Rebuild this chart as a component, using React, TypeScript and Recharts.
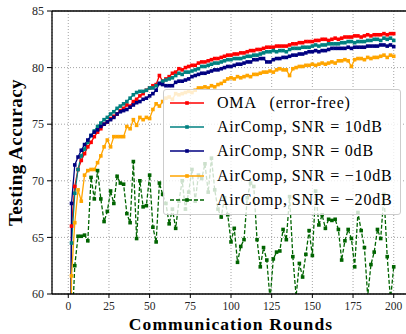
import React from 'react';
import { LineChart, Line, XAxis, YAxis, CartesianGrid, ReferenceLine, Label } from 'recharts';

const rounds = [0, 2, 4, 6, 8, 10, 12, 14, 16, 18, 20, 22, 24, 26, 28, 30, 32, 34, 36, 38, 40, 42, 44, 46, 48, 50, 52, 54, 56, 58, 60, 62, 64, 66, 68, 70, 72, 74, 76, 78, 80, 82, 84, 86, 88, 90, 92, 94, 96, 98, 100, 102, 104, 106, 108, 110, 112, 114, 116, 118, 120, 122, 124, 126, 128, 130, 132, 134, 136, 138, 140, 142, 144, 146, 148, 150, 152, 154, 156, 158, 160, 162, 164, 166, 168, 170, 172, 174, 176, 178, 180, 182, 184, 186, 188, 190, 192, 194, 196, 198, 200];

const omaErrorFree = [10, 66.0, 69.5, 71.0, 71.8, 72.4, 73.0, 73.4, 73.9, 74.3, 74.6, 75.0, 75.2, 75.5, 75.7, 75.9, 76.2, 76.4, 76.7, 76.6, 77.0, 77.2, 77.5, 77.7, 78.0, 78.2, 78.4, 78.5, 79.3, 78.8, 79.0, 79.2, 79.5, 79.6, 79.9, 79.8, 80.0, 80.1, 80.2, 80.2, 80.4, 80.5, 80.5, 80.6, 80.7, 80.8, 80.8, 80.9, 81.0, 81.1, 81.1, 81.2, 81.2, 81.3, 81.3, 81.4, 81.5, 81.5, 81.6, 81.6, 81.7, 81.8, 81.8, 81.8, 81.9, 81.9, 81.9, 81.9, 82.0, 82.1, 82.1, 82.2, 82.2, 82.3, 82.3, 82.3, 82.4, 82.4, 82.5, 82.5, 82.4, 82.5, 82.6, 82.5, 82.6, 82.7, 82.7, 82.7, 82.8, 82.8, 82.7, 82.8, 82.9, 82.8, 82.9, 82.9, 82.9, 83.0, 82.9, 83.0, 83.0];

const snr10dB = [10, 64.5, 68.9, 71.0, 72.2, 72.8, 73.4, 74.0, 74.4, 74.8, 75.1, 75.4, 75.6, 75.9, 76.1, 76.4, 76.6, 76.8, 77.0, 77.3, 77.6, 77.8, 77.9, 77.9, 78.0, 78.2, 78.2, 78.4, 78.6, 78.8, 78.9, 79.0, 79.1, 79.3, 79.5, 79.4, 79.6, 79.6, 79.7, 79.8, 79.9, 80.1, 80.1, 80.2, 80.3, 80.4, 80.4, 80.5, 80.6, 80.7, 80.7, 80.8, 80.8, 80.8, 80.9, 81.0, 81.0, 81.1, 81.1, 81.2, 81.3, 81.4, 81.4, 81.5, 81.4, 81.5, 81.5, 81.4, 81.6, 81.7, 81.7, 81.7, 81.8, 81.8, 81.8, 81.9, 82.0, 81.9, 82.0, 82.0, 82.1, 82.1, 82.1, 82.1, 82.2, 82.2, 82.3, 82.3, 82.2, 82.3, 82.3, 82.3, 82.4, 82.4, 82.5, 82.5, 82.4, 82.6, 82.5, 82.6, 82.4];

const snr0dB = [10, 68.0, 71.4, 72.1, 72.7, 73.2, 73.6, 74.0, 74.3, 74.5, 74.8, 75.0, 75.2, 75.4, 75.6, 75.9, 76.1, 76.2, 76.3, 76.5, 76.7, 76.9, 77.0, 77.2, 77.3, 77.5, 77.7, 78.0, 78.6, 78.5, 78.4, 78.4, 78.4, 78.7, 78.8, 78.8, 78.9, 79.0, 79.2, 79.3, 79.4, 79.5, 79.5, 79.6, 79.7, 79.8, 79.8, 79.9, 80.0, 80.1, 80.1, 80.2, 80.3, 80.3, 80.4, 80.5, 80.5, 80.7, 80.7, 80.8, 80.8, 80.5, 80.5, 80.7, 80.8, 80.8, 80.9, 80.9, 81.0, 81.1, 81.1, 81.2, 81.2, 81.3, 81.4, 81.4, 81.5, 81.4, 81.5, 81.5, 81.6, 81.7, 81.7, 81.7, 81.7, 81.7, 81.8, 81.7, 81.8, 81.8, 81.8, 81.8, 81.9, 81.9, 81.9, 81.9, 82.0, 82.0, 81.9, 82.0, 81.85];

const snrMinus10dB = [10, 61.6, 66.3, 69.2, 68.2, 70.5, 70.9, 71.0, 71.0, 71.6, 72.2, 73.0, 73.6, 73.0, 73.9, 73.9, 73.9, 73.9, 74.8, 74.6, 75.4, 74.9, 75.6, 75.4, 75.6, 75.5, 76.3, 76.8, 76.6, 77.0, 77.3, 77.4, 77.2, 77.7, 77.6, 77.7, 77.8, 77.9, 77.8, 78.0, 78.2, 78.2, 78.3, 78.2, 78.4, 78.3, 78.5, 78.6, 78.8, 79.0, 79.1, 79.0, 79.2, 79.1, 79.2, 79.3, 79.2, 79.4, 79.4, 79.5, 79.6, 79.6, 79.7, 79.6, 79.8, 79.9, 79.8, 79.8, 79.3, 79.9, 80.0, 80.1, 80.1, 80.2, 80.2, 80.3, 80.2, 80.3, 80.4, 80.3, 80.4, 80.5, 80.4, 80.6, 80.6, 80.7, 80.6, 80.1, 80.7, 80.8, 80.8, 80.7, 80.9, 80.8, 80.9, 80.9, 81.0, 81.1, 80.9, 81.1, 81.0];

const snrMinus20dB = [10, 56.0, 62.5, 65.1, 65.1, 65.2, 64.7, 70.3, 68.4, 70.9, 68.4, 66.4, 67.3, 69.1, 68.0, 70.4, 69.8, 69.7, 67.1, 66.3, 71.7, 64.9, 70.0, 67.7, 67.8, 70.5, 65.9, 64.6, 69.8, 68.8, 68.0, 66.2, 67.5, 65.8, 68.2, 70.0, 67.5, 69.0, 71.0, 68.2, 70.5, 70.2, 71.5, 69.0, 72.0, 69.2, 67.5, 66.8, 68.5, 67.0, 64.6, 65.8, 62.8, 64.2, 64.8, 68.5, 69.8, 69.5, 64.8, 62.4, 64.1, 63.0, 59.5, 63.1, 63.7, 63.8, 65.7, 64.8, 68.6, 63.3, 59.8, 62.7, 61.5, 63.5, 65.6, 63.4, 69.1, 66.1, 67.0, 65.8, 66.6, 66.5, 66.6, 65.7, 63.0, 64.7, 65.7, 64.9, 62.4, 67.2, 65.6, 64.1, 59.8, 62.6, 63.7, 65.7, 64.9, 68.8, 63.3, 59.5, 62.4];

const xTicks = [0, 25, 50, 75, 100, 125, 150, 175, 200];
const yTicks = [60, 65, 70, 75, 80, 85];

const seriesList = [
  { key: 'oma', name: 'OMA\u2002\u2009(error-free)', color: '#ff0000', dashed: false, values: omaErrorFree },
  { key: 'snr10', name: 'AirComp,\u2009SNR = 10dB', color: '#008080', dashed: false, values: snr10dB },
  { key: 'snr0', name: 'AirComp,\u2009SNR = 0dB', color: '#000080', dashed: false, values: snr0dB },
  { key: 'snrm10', name: 'AirComp,\u2009SNR = \u221210dB', color: '#ffa500', dashed: false, values: snrMinus10dB },
  { key: 'snrm20', name: 'AirComp,\u2009SNR = \u221220dB', color: '#006400', dashed: true, values: snrMinus20dB },
];

const data = rounds.map((r, i) => {
  const row: Record<string, number> = { round: r };
  seriesList.forEach((s) => {
    row[s.key] = s.values[i];
  });
  return row;
});

const SERIF = '"Liberation Serif", "Times New Roman", serif';
const MS = 3.6;

const squareDot = (color: string) => (props: any) => {
  const { cx, cy, index } = props;
  if (cx == null || cy == null || isNaN(cx) || isNaN(cy)) return <g key={`d-${index}`} />;
  return <rect key={`d-${index}`} x={cx - MS / 2} y={cy - MS / 2} width={MS} height={MS} fill={color} />;
};

const YLabel = (props: any) => {
  const vb = props.viewBox || {};
  const cy = (vb.y || 0) + (vb.height || 0) / 2;
  const x = 22;
  return (
    <text
      x={x}
      y={cy}
      transform={`rotate(-90, ${x}, ${cy})`}
      textAnchor="middle"
      style={{ fontFamily: SERIF, fontWeight: 700, fontSize: 19, letterSpacing: 0.5 }}
      fill="#000"
    >
      Testing Accuracy
    </text>
  );
};

export default function App() {
  return (
    <div style={{ position: 'absolute', left: 0, top: 0, width: 406, height: 334, overflow: 'hidden', background: '#fff' }}>
      <LineChart width={410} height={334} data={data} margin={{ top: 11, right: 0, bottom: 0, left: 0 }}>
        <CartesianGrid stroke="#9a9a9a" strokeDasharray="1 2" strokeWidth={0.9} />
        <XAxis
          dataKey="round"
          type="number"
          domain={[-10, 210]}
          ticks={xTicks}
          allowDataOverflow
          height={40}
          tickSize={4}
          tickMargin={4}
          axisLine={{ stroke: '#000', strokeWidth: 1.3 }}
          tickLine={{ stroke: '#000', strokeWidth: 1 }}
          tick={{ fontFamily: SERIF, fontSize: 11.5, fill: '#262626' }}
        >
          <Label
            value="Communication Rounds"
            position="insideBottom"
            offset={4}
            style={{ fontFamily: SERIF, fontWeight: 700, fontSize: 17.5, letterSpacing: 1.1, fill: '#000' }}
          />
        </XAxis>
        <YAxis
          type="number"
          domain={[60, 85]}
          ticks={yTicks}
          allowDataOverflow
          width={52}
          tickSize={5}
          tickMargin={3}
          axisLine={{ stroke: '#000', strokeWidth: 1.3 }}
          tickLine={{ stroke: '#000', strokeWidth: 1 }}
          tick={{ fontFamily: SERIF, fontSize: 12, fill: '#262626' }}
          label={<YLabel />}
        />
        <ReferenceLine y={85} stroke="#000" strokeWidth={1.3} />
        {seriesList.map((s) => (
          <Line
            key={s.key}
            dataKey={s.key}
            name={s.name}
            type="linear"
            stroke={s.color}
            strokeWidth={1.3}
            strokeDasharray={s.dashed ? '4 2' : undefined}
            dot={squareDot(s.color)}
            activeDot={false}
            isAnimationActive={false}
          />
        ))}
      </LineChart>
      <div
        style={{
          position: 'absolute',
          left: 163,
          top: 89,
          width: 238,
          height: 126,
          boxSizing: 'border-box',
          background: 'rgba(255,255,255,0.8)',
          border: '1px solid #cccccc',
          borderRadius: 3,
          paddingTop: 1,
        }}
      >
        {seriesList.map((s) => (
          <div key={s.key} style={{ height: 24.2, display: 'flex', alignItems: 'center' }}>
            <svg width={34} height={10} style={{ marginLeft: 6, flex: 'none' }}>
              <line x1={0} y1={5} x2={34} y2={5} stroke={s.color} strokeWidth={1.3} strokeDasharray={s.dashed ? '4 2' : undefined} />
              <rect x={17 - MS / 2} y={5 - MS / 2} width={MS} height={MS} fill={s.color} />
            </svg>
            <span
              style={{
                marginLeft: 13,
                fontFamily: SERIF,
                fontSize: 16,
                letterSpacing: 0.8,
                color: '#000',
                whiteSpace: 'pre',
                lineHeight: '16px',
              }}
            >
              {s.name}
            </span>
          </div>
        ))}
      </div>
    </div>
  );
}
